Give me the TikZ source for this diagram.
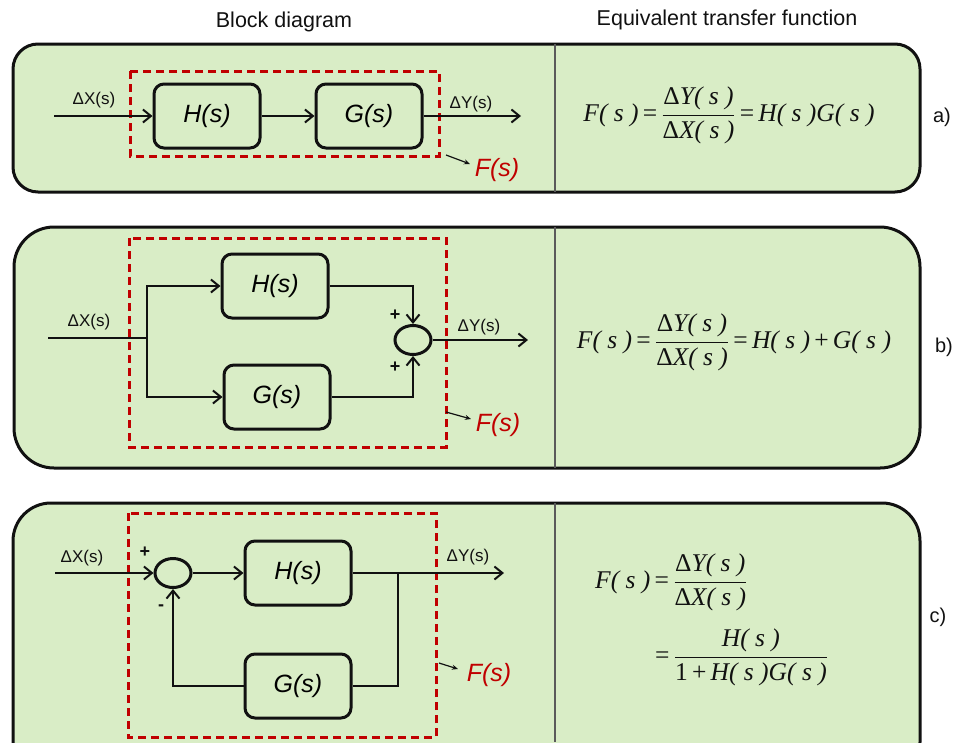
\documentclass[tikz,border=0pt]{standalone}
\usepackage{fontspec}
\setmainfont{Liberation Sans}
\newfontfamily\eqfont{Liberation Serif}
\usepackage{tikz}
\usetikzlibrary{arrows.meta,shapes.geometric}
\definecolor{ink}{HTML}{111111}
\definecolor{leaf}{HTML}{D9EDC6}
\definecolor{fRed}{HTML}{C00000}
\definecolor{rule}{HTML}{5A5A5A}
\newcommand{\tv}[1]{\mbox{\eqfont\itshape #1}}
\newcommand{\tn}[1]{\mbox{\eqfont #1}}
\tikzset{
  panel/.style={draw=ink, fill=leaf, line width=3pt},
  sep/.style={draw=rule, line width=1.5pt},
  blk/.style={draw=ink, fill=leaf, rounded corners=10pt, line width=3pt, minimum width=106pt, minimum height=64pt, inner sep=0pt, font=\fontsize{25}{28}\selectfont\itshape},
  sumn/.style={ellipse, draw=ink, line width=3pt, minimum width=36pt, minimum height=29pt, inner sep=0pt},
  lbl/.style={font=\fontsize{17}{20}\selectfont, text=ink, inner sep=0pt},
  ttl/.style={font=\fontsize{21.5}{25}\selectfont, text=ink, inner sep=0pt},
  eqn/.style={font=\fontsize{25.5}{30}\selectfont, text=ink, inner sep=0pt},
}

\begin{document}
\begin{tikzpicture}[x=1pt, y=-1pt,
  arr/.style={-{Straight Barb[length=8pt,width=13pt]}, draw=ink, line width=2pt},
  wire/.style={draw=ink, line width=2pt},
  fbox/.style={draw=fRed, line width=3pt, dash pattern=on 8pt off 5pt},
  ptr/.style={-{Stealth[length=6pt,width=5pt]}, draw=ink, line width=1.2pt},
  flbl/.style={font=\fontsize{25}{28}\selectfont\itshape, text=fRed, inner sep=0pt}]
\useasboundingbox (0,0) rectangle (957,742);
\node[ttl] (ttlA) at (284,22) {Block diagram};
\node[ttl] (ttlB) at (727,20) {Equivalent transfer function};
% a) series
\draw[panel, rounded corners=25pt] (13,44) rectangle (920,192);
\draw[sep] (555,44) -- (555,192);
\draw[fbox] (130,71) rectangle (439,156);
\node[blk] (ha) at (207,116) {H(s)};
\node[blk] (ga) at (369,116) {G(s)};
\coordinate (xa) at (54,116); \coordinate (ya) at (521,116);
\draw[arr] (xa) -- (ha.west); \draw[arr] (ha.east) -- (ga.west); \draw[arr] (ga.east) -- (ya);
\node[lbl] (dxa) at (94,100) {ΔX(s)}; \node[lbl] (dya) at (471,104) {ΔY(s)};
\coordinate (pa0) at (446,155); \coordinate (pa1) at (470,164);
\draw[ptr] (pa0) -- (pa1); \node[flbl] (fa) at (497,170) {F(s)};
\node[eqn] (eqa) at (729,115) {$\displaystyle\tv{F( s )}\tn{\,=\,}\frac{\tn{Δ}\tv{Y( s )}}{\tn{Δ}\tv{X( s )}}\tn{\,=\,}\tv{H( s )G( s )}$};
\node[lbl, font=\fontsize{20}{24}\selectfont] (taga) at (942,117) {a)};
% b) parallel
\draw[panel, rounded corners=40pt] (14,227) rectangle (920,468);
\draw[sep] (555,227) -- (555,468);
\draw[fbox] (129,238) rectangle (446,447);
\node[blk] (hb) at (275,286) {H(s)};
\node[blk] (gb) at (277,397) {G(s)};
\node[sumn] (sb) at (413,340) {};
\coordinate (xb) at (48,338); \coordinate (jb) at (147,338); \coordinate (yb) at (528,340);
\draw[wire] (xb) -- (jb);
\draw[arr] (jb) |- (hb.west); \draw[arr] (jb) |- (gb.west);
\draw[arr] (hb.east) -| (sb.north); \draw[arr] (gb.east) -| (sb.south);
\draw[arr] (sb.east) -- (yb);
\node[lbl, font=\fontsize{18}{20}\selectfont\bfseries] (pb1) at (395,315) {+};
\node[lbl, font=\fontsize{18}{20}\selectfont\bfseries] (pb2) at (395,367) {+};
\node[lbl] (dxb) at (89,322) {ΔX(s)}; \node[lbl] (dyb) at (479,327) {ΔY(s)};
\coordinate (pb0) at (446,412); \coordinate (pb1e) at (471,419);
\draw[ptr] (pb0) -- (pb1e); \node[flbl] (fb) at (498,425) {F(s)};
\node[eqn] (eqb) at (734,342) {$\displaystyle\tv{F( s )}\tn{\,=\,}\frac{\tn{Δ}\tv{Y( s )}}{\tn{Δ}\tv{X( s )}}\tn{\,=\,}\tv{H( s )}\tn{\,+\,}\tv{G( s )}$};
\node[lbl, font=\fontsize{20}{24}\selectfont] (tagb) at (944,347) {b)};
% c) feedback
\begin{scope}
\clip (0,0) rectangle (957,742);
\draw[panel, rounded corners=38pt] (13,503) rectangle (920,780);
\end{scope}
\draw[sep] (555,503) -- (555,742);
\draw[fbox] (128,513) rectangle (436,737);
\node[sumn] (sc) at (173,573) {};
\node[blk] (hc) at (298,573) {H(s)};
\node[blk] (gc) at (298,686) {G(s)};
\coordinate (xc) at (55,573); \coordinate (jc) at (398,573); \coordinate (yc) at (504,573);
\draw[arr] (xc) -- (sc.west); \draw[arr] (sc.east) -- (hc.west);
\draw[arr] (hc.east) -- (yc);
\draw[wire] (jc) |- (gc.east);
\draw[arr] (gc.west) -| (sc.south);
\node[lbl, font=\fontsize{18}{20}\selectfont\bfseries] (pc1) at (145,552) {+};
\node[lbl, font=\fontsize{18}{20}\selectfont\bfseries] (pc2) at (161,608) {-};
\node[lbl] (dxc) at (82,558) {ΔX(s)}; \node[lbl] (dyc) at (468,557) {ΔY(s)};
\coordinate (pc0) at (439,663); \coordinate (pc1e) at (458,669);
\draw[ptr] (pc0) -- (pc1e); \node[flbl] (fc) at (489,675) {F(s)};
\node[eqn, anchor=west] (eqc1) at (595,582) {$\displaystyle\tv{F( s )}\tn{\,=\,}\frac{\tn{Δ}\tv{Y( s )}}{\tn{Δ}\tv{X( s )}}$};
\node[eqn, anchor=west] (eqc2) at (655,657) {$\displaystyle\tn{=\,}\frac{\tv{H( s )}}{\tn{1\,+\,}\tv{H( s )G( s )}}$};
\node[lbl, font=\fontsize{20}{24}\selectfont] (tagc) at (938,617) {c)};
\end{tikzpicture}
\end{document}
